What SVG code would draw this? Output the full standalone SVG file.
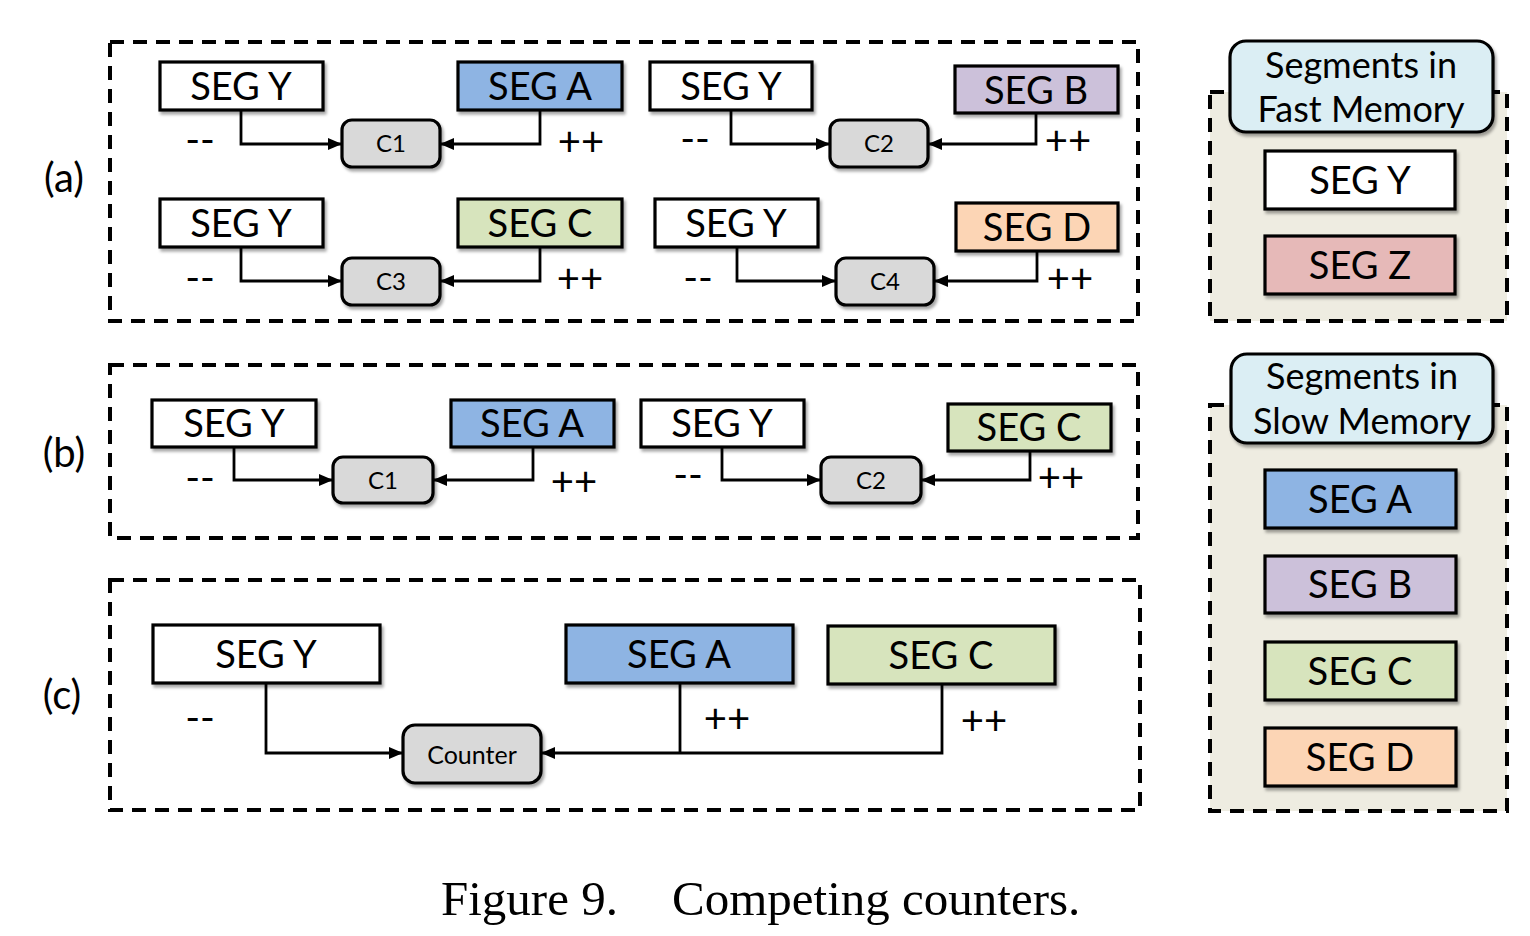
<svg xmlns="http://www.w3.org/2000/svg" width="1530" height="936" viewBox="0 0 1530 936">
<defs>
<filter id="sh" x="-10%" y="-10%" width="130%" height="140%">
<feDropShadow dx="2" dy="3" stdDeviation="1.8" flood-color="#000" flood-opacity="0.35"/>
</filter>
<marker id="arr" viewBox="0 0 14 12" refX="13" refY="6" markerWidth="14" markerHeight="12" markerUnits="userSpaceOnUse" orient="auto">
<path d="M0,0 L14,6 L0,12 z" fill="#000"/>
</marker>
<style>
.panel{fill:none;stroke:#000;stroke-width:4;stroke-dasharray:14 9}
.leg{fill:#EEECE1;stroke:#000;stroke-width:4;stroke-dasharray:14 9}
.seg{stroke:#000;stroke-width:3.2;filter:url(#sh)}
.cnt{fill:#D9D9D9;stroke:#000;stroke-width:3.2;filter:url(#sh)}
.lbl{fill:#DBEEF4;stroke:#000;stroke-width:3.2;filter:url(#sh)}
.w{fill:#FFFFFF}.a{fill:#8EB4E3}.b{fill:#CCC1DA}.c{fill:#D7E4BD}.d{fill:#FCD5B5}.z{fill:#E6B9B8}
.t{font-family:Lato,"Open Sans","Liberation Sans",sans-serif;font-size:38px;fill:#000;text-anchor:middle}
.ts{font-family:Lato,"Open Sans","Liberation Sans",sans-serif;font-size:24px;fill:#000;text-anchor:middle}
.tc{font-family:Lato,"Open Sans","Liberation Sans",sans-serif;font-size:25px;fill:#000;text-anchor:middle}
.tl{font-family:Lato,"Open Sans","Liberation Sans",sans-serif;font-size:36px;fill:#000;text-anchor:middle}
.tp{font-family:Lato,"Open Sans","Liberation Sans",sans-serif;font-size:40px;fill:#000;text-anchor:middle}
.op{font-family:Lato,"Open Sans","Liberation Sans",sans-serif;font-size:40px;fill:#000;text-anchor:middle}
.cap{font-family:"Liberation Serif","Times New Roman",serif;font-size:49px;fill:#000}
.ln{fill:none;stroke:#000;stroke-width:2.8}
</style>
</defs>
<rect width="1530" height="936" fill="#FFFFFF"/>

<g id="panels">
<rect class="panel" x="110" y="42" width="1028" height="279"/>
<rect class="panel" x="110" y="365" width="1028" height="173"/>
<rect class="panel" x="110" y="580" width="1030" height="230"/>
<text class="tp" x="64" y="192">(a)</text>
<text class="tp" x="64" y="467">(b)</text>
<text class="tp" x="62" y="709">(c)</text>
</g>

<g id="connectors">
<path class="ln" d="M241 110 V144 H341" marker-end="url(#arr)"/>
<path class="ln" d="M540 110 V144 H441" marker-end="url(#arr)"/>
<path class="ln" d="M731 110 V144 H829" marker-end="url(#arr)"/>
<path class="ln" d="M1036 113 V144 H929" marker-end="url(#arr)"/>
<path class="ln" d="M241 247 V281 H341" marker-end="url(#arr)"/>
<path class="ln" d="M540 247 V281 H441" marker-end="url(#arr)"/>
<path class="ln" d="M737 247 V281 H835" marker-end="url(#arr)"/>
<path class="ln" d="M1037 251 V281 H935" marker-end="url(#arr)"/>
<path class="ln" d="M234 447 V480 H332" marker-end="url(#arr)"/>
<path class="ln" d="M533 447 V480 H434" marker-end="url(#arr)"/>
<path class="ln" d="M722 447 V480 H820" marker-end="url(#arr)"/>
<path class="ln" d="M1030 451 V480 H922" marker-end="url(#arr)"/>
<path class="ln" d="M266 683 V753 H402" marker-end="url(#arr)"/>
<path class="ln" d="M942 684 V753 H542" marker-end="url(#arr)"/>
<path class="ln" d="M680 683 V753"/>
</g>

<g id="ops">
<text class="op" x="200" y="154">--</text>
<text class="op" x="581" y="156">++</text>
<text class="op" x="695" y="153">--</text>
<text class="op" x="1068" y="155">++</text>
<text class="op" x="200" y="292">--</text>
<text class="op" x="580" y="293">++</text>
<text class="op" x="698" y="292">--</text>
<text class="op" x="1070" y="293">++</text>
<text class="op" x="200" y="492">--</text>
<text class="op" x="574" y="496">++</text>
<text class="op" x="688" y="489">--</text>
<text class="op" x="1061" y="492">++</text>
<text class="op" x="200" y="732">--</text>
<text class="op" x="727" y="733">++</text>
<text class="op" x="984" y="735">++</text>
</g>

<g id="a-segY1"><rect class="seg w" x="160" y="62" width="163" height="48"/><text class="t" x="241" y="100">SEG Y</text></g>
<g id="a-segA"><rect class="seg a" x="458" y="62" width="164" height="48"/><text class="t" x="540" y="100">SEG A</text></g>
<g id="a-c1"><rect class="cnt" x="342" y="120" width="98" height="47" rx="10"/><text class="ts" x="391" y="152">C1</text></g>
<g id="a-segY2"><rect class="seg w" x="650" y="62" width="162" height="48"/><text class="t" x="731" y="100">SEG Y</text></g>
<g id="a-segB"><rect class="seg b" x="955" y="66" width="163" height="47"/><text class="t" x="1036" y="104">SEG B</text></g>
<g id="a-c2"><rect class="cnt" x="830" y="120" width="98" height="47" rx="10"/><text class="ts" x="879" y="152">C2</text></g>
<g id="a-segY3"><rect class="seg w" x="160" y="199" width="163" height="48"/><text class="t" x="241" y="237">SEG Y</text></g>
<g id="a-segC"><rect class="seg c" x="458" y="199" width="164" height="48"/><text class="t" x="540" y="237">SEG C</text></g>
<g id="a-c3"><rect class="cnt" x="342" y="258" width="98" height="47" rx="10"/><text class="ts" x="391" y="290">C3</text></g>
<g id="a-segY4"><rect class="seg w" x="655" y="199" width="163" height="48"/><text class="t" x="736" y="237">SEG Y</text></g>
<g id="a-segD"><rect class="seg d" x="956" y="203" width="162" height="48"/><text class="t" x="1037" y="241">SEG D</text></g>
<g id="a-c4"><rect class="cnt" x="836" y="258" width="98" height="47" rx="10"/><text class="ts" x="885" y="290">C4</text></g>

<g id="b-segY1"><rect class="seg w" x="152" y="400" width="164" height="47"/><text class="t" x="234" y="437">SEG Y</text></g>
<g id="b-segA"><rect class="seg a" x="451" y="400" width="163" height="47"/><text class="t" x="532" y="437">SEG A</text></g>
<g id="b-c1"><rect class="cnt" x="333" y="457" width="100" height="46" rx="10"/><text class="ts" x="383" y="489">C1</text></g>
<g id="b-segY2"><rect class="seg w" x="641" y="400" width="163" height="47"/><text class="t" x="722" y="437">SEG Y</text></g>
<g id="b-segC"><rect class="seg c" x="948" y="404" width="163" height="47"/><text class="t" x="1029" y="441">SEG C</text></g>
<g id="b-c2"><rect class="cnt" x="821" y="457" width="100" height="46" rx="10"/><text class="ts" x="871" y="489">C2</text></g>

<g id="c-segY"><rect class="seg w" x="153" y="625" width="227" height="58"/><text class="t" x="266" y="668">SEG Y</text></g>
<g id="c-segA"><rect class="seg a" x="566" y="625" width="227" height="58"/><text class="t" x="679" y="668">SEG A</text></g>
<g id="c-segC"><rect class="seg c" x="828" y="626" width="227" height="58"/><text class="t" x="941" y="669">SEG C</text></g>
<g id="c-counter"><rect class="cnt" x="403" y="725" width="138" height="58" rx="12"/><text class="tc" x="472" y="764">Counter</text></g>

<g id="fast-memory">
<rect class="leg" x="1210" y="92" width="297" height="229"/>
<rect class="lbl" x="1230" y="41" width="263" height="91" rx="16"/>
<text class="tl" x="1361" y="78">Segments in</text>
<text class="tl" x="1361" y="122">Fast Memory</text>
</g>
<g id="fast-segY"><rect class="seg w" x="1265" y="151" width="190" height="58"/><text class="t" x="1360" y="194">SEG Y</text></g>
<g id="fast-segZ"><rect class="seg z" x="1265" y="236" width="190" height="58"/><text class="t" x="1360" y="279">SEG Z</text></g>

<g id="slow-memory">
<rect class="leg" x="1210" y="405" width="297" height="406"/>
<rect class="lbl" x="1231" y="354" width="262" height="89" rx="16"/>
<text class="tl" x="1362" y="389">Segments in</text>
<text class="tl" x="1362" y="434">Slow Memory</text>
</g>
<g id="slow-segA"><rect class="seg a" x="1265" y="470" width="191" height="58"/><text class="t" x="1360" y="513">SEG A</text></g>
<g id="slow-segB"><rect class="seg b" x="1265" y="556" width="191" height="57"/><text class="t" x="1360" y="598">SEG B</text></g>
<g id="slow-segC"><rect class="seg c" x="1265" y="642" width="191" height="58"/><text class="t" x="1360" y="685">SEG C</text></g>
<g id="slow-segD"><rect class="seg d" x="1265" y="728" width="191" height="58"/><text class="t" x="1360" y="771">SEG D</text></g>

<g id="caption">
<text class="cap" x="441" y="915">Figure 9.</text>
<text class="cap" x="672" y="915">Competing counters.</text>
</g>
</svg>
